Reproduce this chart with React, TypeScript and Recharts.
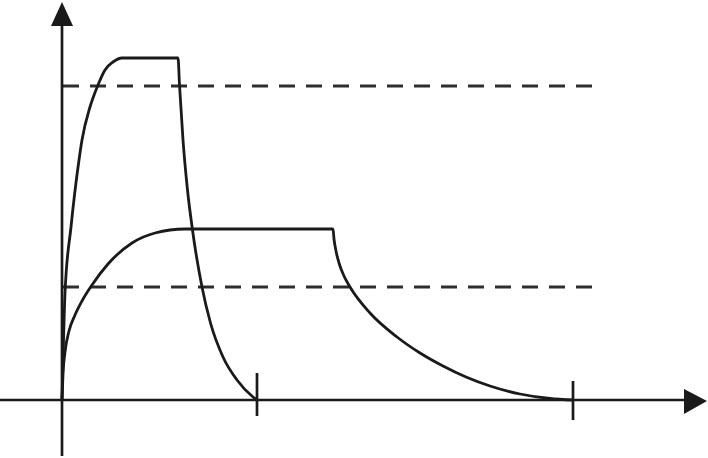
import React from "react";
import { ComposedChart, Line, XAxis, YAxis, ReferenceLine, ReferenceDot } from "recharts";

// Schematic units: x = time, y = level
const fastCurve = [
  { x: 0, y: 0 },
  { x: 0.1, y: 4 },
  { x: 0.3, y: 10.7 },
  { x: 0.9, y: 17.3 },
  { x: 1.7, y: 24 },
  { x: 2.0, y: 26 },
  { x: 2.8, y: 29.3 },
  { x: 3.6, y: 31.5 },
  { x: 4.3, y: 33 },
  { x: 5.1, y: 33.8 },
  { x: 6.0, y: 34.2 },
  { x: 11.6, y: 34.2 },
  { x: 11.75, y: 31.5 },
  { x: 12.1, y: 26 },
  { x: 12.55, y: 21 },
  { x: 13.05, y: 17 },
  { x: 14.0, y: 11.3 },
  { x: 14.85, y: 7.7 },
  { x: 16.1, y: 4.3 },
  { x: 17.5, y: 2 },
  { x: 19.1, y: 0.3 },
  { x: 19.5, y: 0 },
];

const slowCurve = [
  { x: 0, y: 0 },
  { x: 0.1, y: 2.6 },
  { x: 0.3, y: 4.8 },
  { x: 0.7, y: 6.9 },
  { x: 1.3, y: 8.5 },
  { x: 2.0, y: 9.9 },
  { x: 3.0, y: 11.5 },
  { x: 4.6, y: 13.6 },
  { x: 7.0, y: 15.7 },
  { x: 9.3, y: 16.7 },
  { x: 12.3, y: 17.1 },
  { x: 27.1, y: 17.1 },
  { x: 27.2, y: 16.1 },
  { x: 27.4, y: 14.9 },
  { x: 27.7, y: 13.7 },
  { x: 28.2, y: 12.4 },
  { x: 28.8, y: 11.3 },
  { x: 30.8, y: 8.7 },
  { x: 33.5, y: 6.3 },
  { x: 35.8, y: 4.7 },
  { x: 38.1, y: 3.4 },
  { x: 40.4, y: 2.3 },
  { x: 42.8, y: 1.4 },
  { x: 45.8, y: 0.6 },
  { x: 48.8, y: 0.15 },
  { x: 51.1, y: 0 },
];

const thresholds = [31.4, 11.3];
const thresholdEnd = 53.1;
const endTimes = [19.5, 51.1];
const tickSpans = [
  [-1.6, 2.7],
  [-2.0, 1.9],
];

const xDomain = [-6.2, 64.6];
const yDomain = [-5.8, 40];

const ink = "#1a1a1a";

const UpArrow = (props: any) => {
  const { cx, cy } = props;
  return <polygon points={`${cx},${cy} ${cx - 11},${cy + 24} ${cx + 11},${cy + 24}`} fill={ink} />;
};

const RightArrow = (props: any) => {
  const { cx, cy } = props;
  return <polygon points={`${cx},${cy} ${cx - 23},${cy - 12} ${cx - 23},${cy + 13}`} fill={ink} />;
};

export default function App() {
  return (
    <div style={{ position: "absolute", left: 0, top: 0, background: "#fff" }}>
      <ComposedChart width={708} height={458} margin={{ top: 0, right: 0, bottom: 0, left: 0 }}>
        <XAxis type="number" dataKey="x" domain={xDomain} hide allowDataOverflow />
        <YAxis type="number" dataKey="y" domain={yDomain} hide allowDataOverflow />

        {thresholds.map((t, i) => (
          <ReferenceLine
            key={"th" + i}
            segment={[
              { x: 0.1, y: t },
              { x: thresholdEnd, y: t },
            ]}
            stroke="#2e2e2e"
            strokeWidth={3}
            strokeDasharray="16 11"
          />
        ))}

        {/* axes */}
        <ReferenceLine
          segment={[
            { x: -6.2, y: 0 },
            { x: 62.4, y: 0 },
          ]}
          stroke={ink}
          strokeWidth={2.7}
        />
        <ReferenceLine
          segment={[
            { x: 0, y: -5.6 },
            { x: 0, y: 37.6 },
          ]}
          stroke={ink}
          strokeWidth={2.7}
        />
        <ReferenceDot x={0} y={39.8} r={1} shape={UpArrow} />
        <ReferenceDot x={64.5} y={-0.1} r={1} shape={RightArrow} />

        {endTimes.map((t, i) => (
          <ReferenceLine
            key={"tk" + i}
            segment={[
              { x: t, y: tickSpans[i][0] },
              { x: t, y: tickSpans[i][1] },
            ]}
            stroke={ink}
            strokeWidth={2.7}
          />
        ))}

        <Line
          data={fastCurve}
          dataKey="y"
          type="monotone"
          stroke={ink}
          strokeWidth={2.8}
          dot={false}
          activeDot={false}
          isAnimationActive={false}
        />
        <Line
          data={slowCurve}
          dataKey="y"
          type="monotone"
          stroke={ink}
          strokeWidth={2.8}
          dot={false}
          activeDot={false}
          isAnimationActive={false}
        />
      </ComposedChart>
    </div>
  );
}
